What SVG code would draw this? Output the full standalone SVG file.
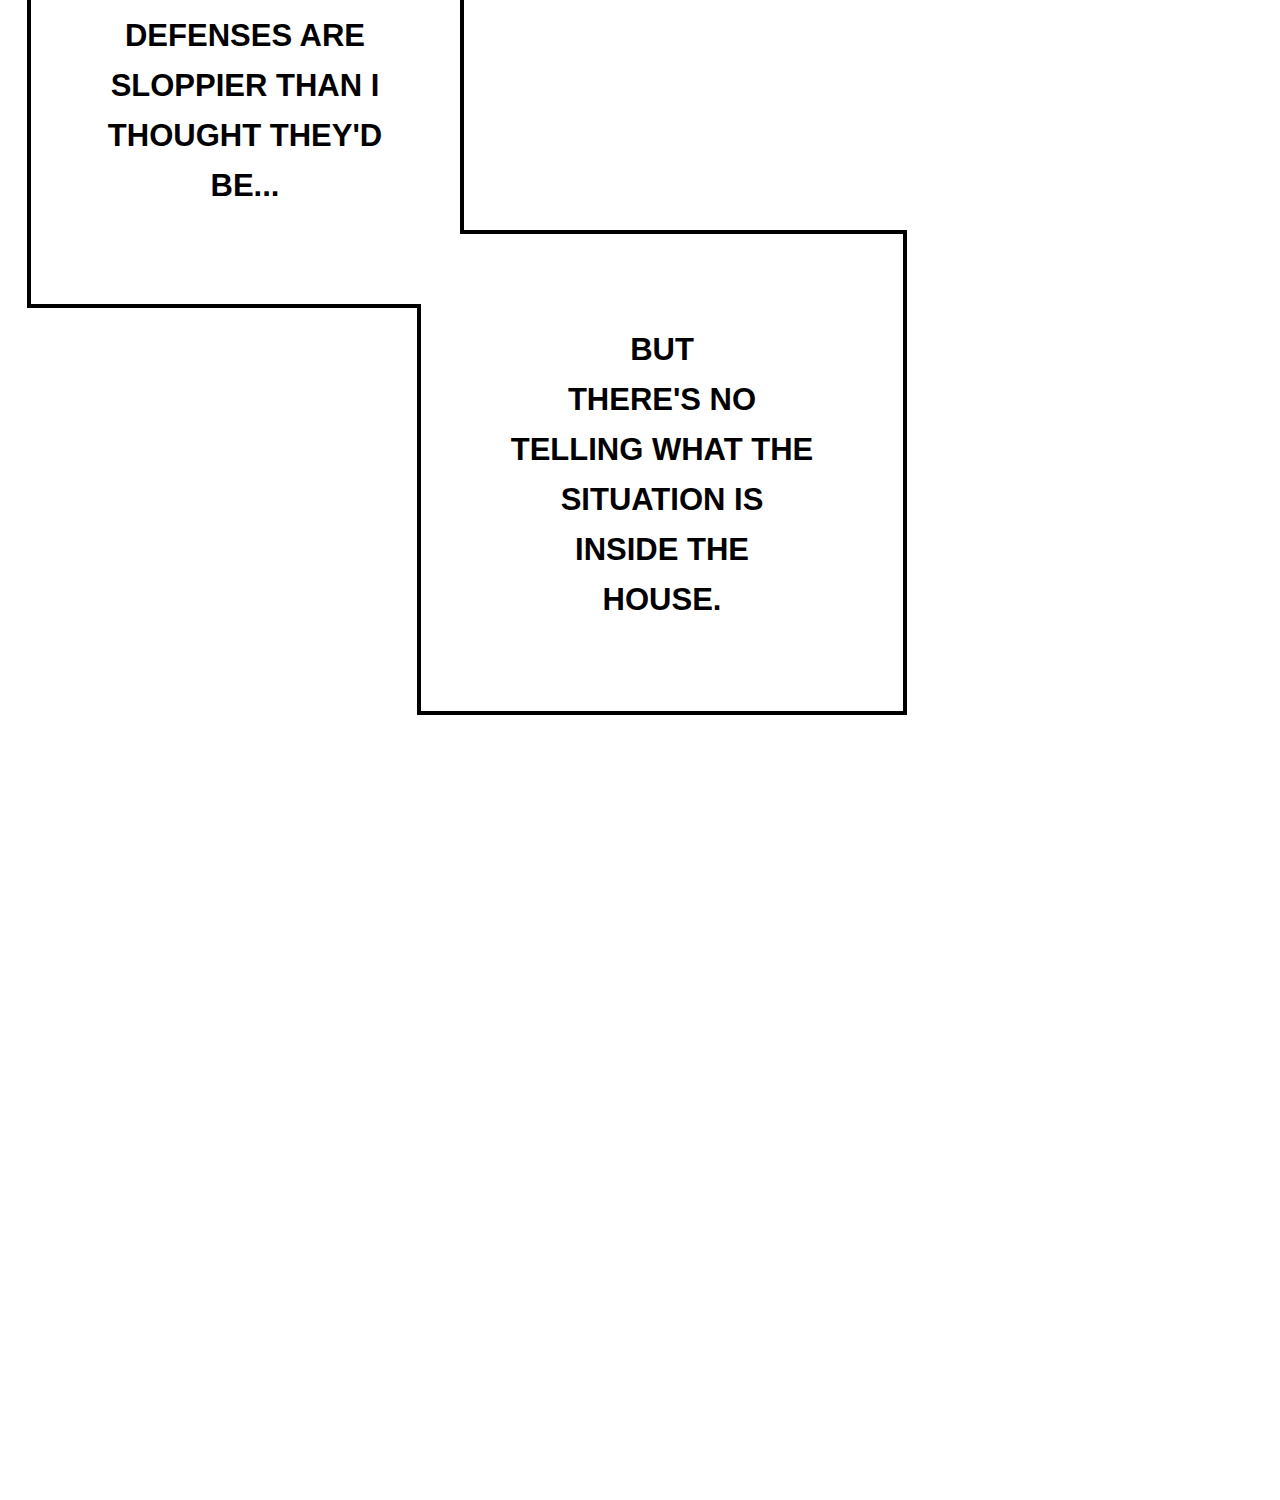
<svg xmlns="http://www.w3.org/2000/svg" width="1280" height="1500" viewBox="0 0 1280 1500">
<style>
.t{font-family:"Liberation Sans",Arial,sans-serif;font-weight:bold;font-size:31px;fill:#000;text-anchor:middle}
</style>
<rect width="1280" height="1500" fill="#fff"/>
<path d="M29,-5 L29,306 L419,306 L419,713 L905,713 L905,232 L462,232 L462,-5" fill="#fff" stroke="#000" stroke-width="4" stroke-linejoin="miter"/>
<g id="box1">
<text class="t" x="245" y="46">DEFENSES ARE</text>
<text class="t" x="245" y="96">SLOPPIER THAN I</text>
<text class="t" x="245" y="146">THOUGHT THEY'D</text>
<text class="t" x="245" y="196">BE...</text>
</g>
<g id="box2">
<text class="t" x="662" y="360">BUT</text>
<text class="t" x="662" y="410">THERE'S NO</text>
<text class="t" x="662" y="460">TELLING WHAT THE</text>
<text class="t" x="662" y="510">SITUATION IS</text>
<text class="t" x="662" y="560">INSIDE THE</text>
<text class="t" x="662" y="610">HOUSE.</text>
</g>
</svg>
